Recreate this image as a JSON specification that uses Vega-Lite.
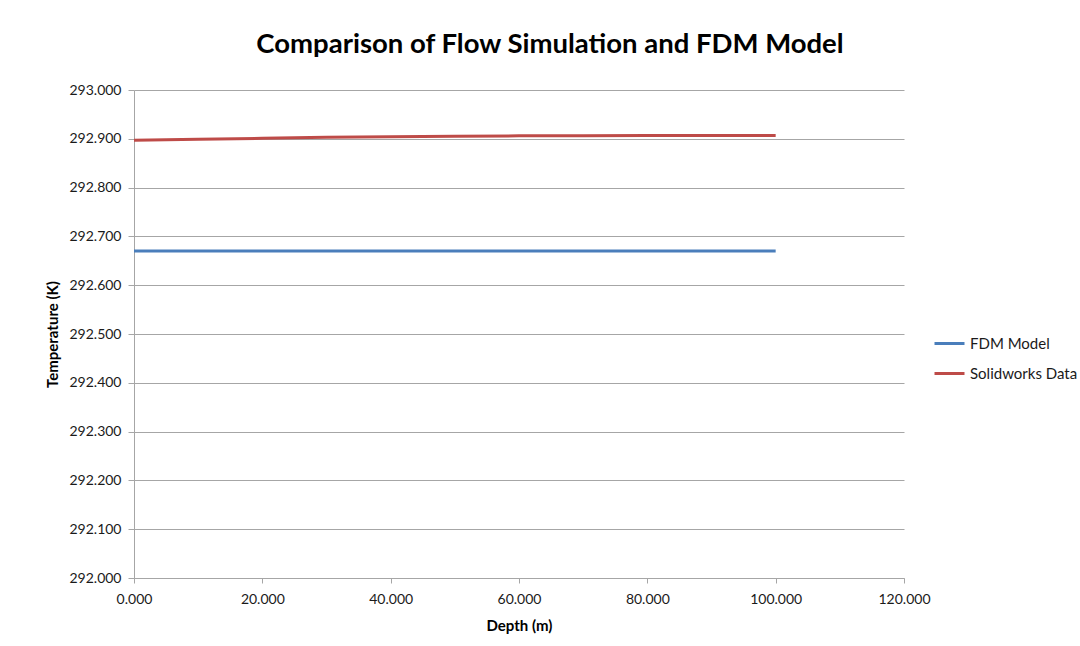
{
  "$schema": "https://vega.github.io/schema/vega-lite/v6.json",
  "autosize": "none",
  "width": 770,
  "height": 488,
  "padding": {"left": 134, "top": 90, "right": 176, "bottom": 68},
  "background": "white",
  "config": {
    "font": "Lato",
    "view": {"stroke": null}
  },
  "title": {
    "text": "Comparison of Flow Simulation and FDM Model",
    "font": "Lato",
    "fontSize": 27.5,
    "fontWeight": "bold",
    "color": "#000000",
    "anchor": "middle",
    "dx": 31,
    "offset": 25
  },
  "data": {
    "values": [
      {"depth": 0, "temp": 292.670, "series": "FDM Model"},
      {"depth": 10, "temp": 292.670, "series": "FDM Model"},
      {"depth": 20, "temp": 292.670, "series": "FDM Model"},
      {"depth": 30, "temp": 292.670, "series": "FDM Model"},
      {"depth": 40, "temp": 292.670, "series": "FDM Model"},
      {"depth": 50, "temp": 292.670, "series": "FDM Model"},
      {"depth": 60, "temp": 292.670, "series": "FDM Model"},
      {"depth": 70, "temp": 292.670, "series": "FDM Model"},
      {"depth": 80, "temp": 292.670, "series": "FDM Model"},
      {"depth": 90, "temp": 292.670, "series": "FDM Model"},
      {"depth": 100, "temp": 292.670, "series": "FDM Model"},
      {"depth": 0, "temp": 292.897, "series": "Solidworks Data"},
      {"depth": 10, "temp": 292.899, "series": "Solidworks Data"},
      {"depth": 20, "temp": 292.901, "series": "Solidworks Data"},
      {"depth": 30, "temp": 292.903, "series": "Solidworks Data"},
      {"depth": 40, "temp": 292.904, "series": "Solidworks Data"},
      {"depth": 50, "temp": 292.905, "series": "Solidworks Data"},
      {"depth": 60, "temp": 292.906, "series": "Solidworks Data"},
      {"depth": 70, "temp": 292.906, "series": "Solidworks Data"},
      {"depth": 80, "temp": 292.907, "series": "Solidworks Data"},
      {"depth": 90, "temp": 292.907, "series": "Solidworks Data"},
      {"depth": 100, "temp": 292.907, "series": "Solidworks Data"}
    ]
  },
  "mark": {"type": "line", "strokeWidth": 3},
  "encoding": {
    "x": {
      "field": "depth",
      "type": "quantitative",
      "scale": {"domain": [0, 120], "nice": false},
      "axis": {
        "title": "Depth (m)",
        "titleFont": "Lato",
        "titleFontSize": 15,
        "titleFontWeight": "bold",
        "titleColor": "#000000",
        "titlePadding": 12,
        "values": [0, 20, 40, 60, 80, 100, 120],
        "format": ".3f",
        "labelFont": "Lato",
        "labelFontSize": 14,
        "labelColor": "#1a1a1a",
        "labelPadding": 9,
        "labelFlush": false,
        "grid": false,
        "domainColor": "#a6a6a6",
        "domainWidth": 1,
        "tickColor": "#a6a6a6",
        "tickSize": 5
      }
    },
    "y": {
      "field": "temp",
      "type": "quantitative",
      "scale": {"domain": [292, 293], "nice": false, "zero": false},
      "axis": {
        "title": "Temperature (K)",
        "titleFont": "Lato",
        "titleFontSize": 15,
        "titleFontWeight": "bold",
        "titleColor": "#000000",
        "titlePadding": 8,
        "values": [292, 292.1, 292.2, 292.3, 292.4, 292.5, 292.6, 292.7, 292.8, 292.9, 293],
        "format": ".3f",
        "labelFont": "Lato",
        "labelFontSize": 14,
        "labelColor": "#1a1a1a",
        "labelPadding": 7,
        "labelFlush": false,
        "grid": true,
        "gridColor": "#a6a6a6",
        "gridWidth": 1,
        "domainColor": "#a6a6a6",
        "domainWidth": 1,
        "tickColor": "#a6a6a6",
        "tickSize": 6
      }
    },
    "color": {
      "field": "series",
      "type": "nominal",
      "scale": {"domain": ["FDM Model", "Solidworks Data"], "range": ["#4a7ebb", "#be4b48"]},
      "legend": {
        "title": null,
        "orient": "none",
        "legendX": 799,
        "legendY": 237,
        "symbolType": "stroke",
        "symbolSize": 900,
        "symbolStrokeWidth": 3,
        "labelFont": "Lato",
        "labelFontSize": 15,
        "labelColor": "#1a1a1a",
        "rowPadding": 5,
        "labelOffset": 4
      }
    }
  }
}
